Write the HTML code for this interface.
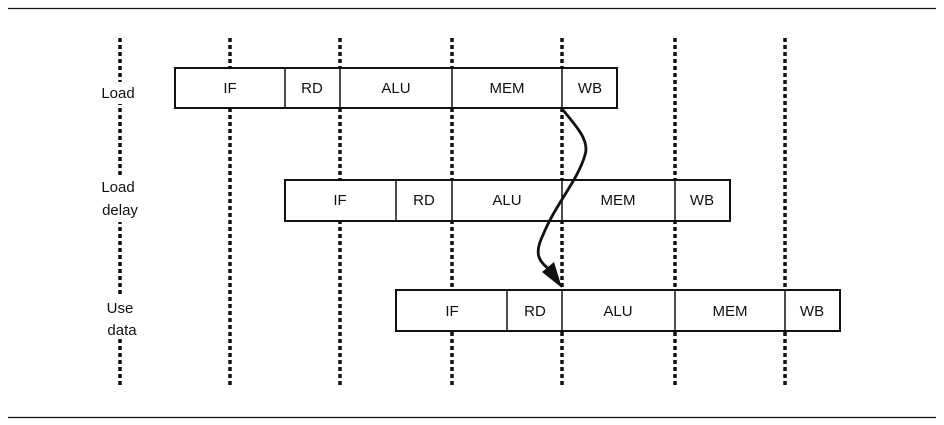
<!DOCTYPE html>
<html><head><style>
html,body{margin:0;padding:0;background:#fff;}
svg{display:block;}
text{font-family:"Liberation Sans",sans-serif;font-size:15px;fill:#111;}
</style></head><body>
<svg width="944" height="425" xmlns="http://www.w3.org/2000/svg">
<line x1="8" y1="8.5" x2="936" y2="8.5" stroke="#111" stroke-width="1.3"/>
<line x1="8" y1="417.5" x2="936" y2="417.5" stroke="#111" stroke-width="1.3"/>
<g stroke="#111" stroke-width="3.5" stroke-dasharray="4,3">
<line x1="120" y1="38" x2="120" y2="388"/>
<line x1="230" y1="38" x2="230" y2="388"/>
<line x1="340" y1="38" x2="340" y2="388"/>
<line x1="452" y1="38" x2="452" y2="388"/>
<line x1="562" y1="38" x2="562" y2="388"/>
<line x1="675" y1="38" x2="675" y2="388"/>
<line x1="785" y1="38" x2="785" y2="388"/>
</g>
<g fill="#fff">
<rect x="96" y="82" width="46" height="22"/>
<rect x="96" y="176" width="46" height="46"/>
<rect x="96" y="294" width="46" height="45"/>
</g>
<text x="118" y="98" text-anchor="middle">Load</text>
<text x="118" y="192" text-anchor="middle">Load</text>
<text x="120" y="215" text-anchor="middle">delay</text>
<text x="120" y="313" text-anchor="middle">Use</text>
<text x="122" y="335" text-anchor="middle">data</text>
<g fill="#fff" stroke="#111" stroke-width="2">
<rect x="175" y="68" width="442" height="40"/>
<rect x="285" y="180" width="445" height="41"/>
<rect x="396" y="290" width="444" height="41"/>
</g>
<g stroke="#111" stroke-width="1.5">
<line x1="285" y1="68" x2="285" y2="108"/><line x1="340" y1="68" x2="340" y2="108"/><line x1="452" y1="68" x2="452" y2="108"/><line x1="562" y1="68" x2="562" y2="108"/>
<line x1="396" y1="180" x2="396" y2="221"/><line x1="452" y1="180" x2="452" y2="221"/><line x1="562" y1="180" x2="562" y2="221"/><line x1="675" y1="180" x2="675" y2="221"/>
<line x1="507" y1="290" x2="507" y2="331"/><line x1="562" y1="290" x2="562" y2="331"/><line x1="675" y1="290" x2="675" y2="331"/><line x1="785" y1="290" x2="785" y2="331"/>
</g>
<g text-anchor="middle">
<text x="230" y="93">IF</text><text x="312" y="93">RD</text><text x="396" y="93">ALU</text><text x="507" y="93">MEM</text><text x="590" y="93">WB</text>
<text x="340" y="205">IF</text><text x="424" y="205">RD</text><text x="507" y="205">ALU</text><text x="618" y="205">MEM</text><text x="702" y="205">WB</text>
<text x="452" y="316">IF</text><text x="535" y="316">RD</text><text x="618" y="316">ALU</text><text x="730" y="316">MEM</text><text x="812" y="316">WB</text>
</g>
<path d="M563,110 C575,125 590,140 585,155 C578,180 555,205 543,235 C533,255 540,262 550,270" fill="none" stroke="#111" stroke-width="2.8"/>
<polygon points="542,272 554,262 562,288" fill="#111"/>
</svg>
</body></html>
